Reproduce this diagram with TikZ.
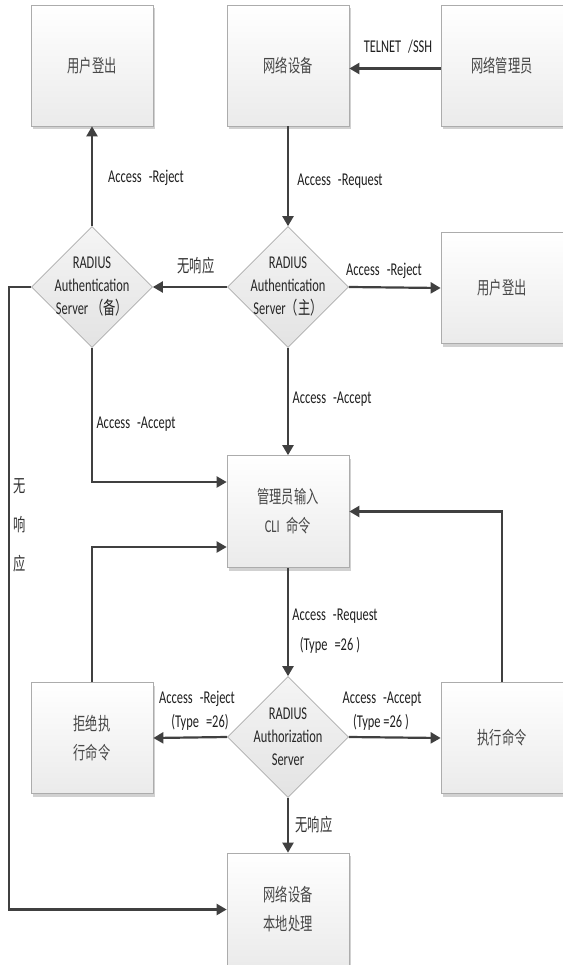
\documentclass[tikz,border=0pt]{standalone}
\usepackage{fontspec}
\setmainfont{Carlito}[FakeStretch=0.69]
\newfontfamily\cjk{Noto Sans CJK SC}[FakeStretch=0.68]
\usetikzlibrary{arrows.meta,shapes.geometric,shadows}
\newcommand\mygap{\hspace{7pt}}
\begin{document}
\begin{tikzpicture}[x=1pt,y=-1pt,
  box/.style={rectangle, draw=gray!65, line width=0.7pt, top color=white, bottom color=gray!16,
    minimum width=122pt, minimum height=112pt, inner sep=0pt,
    drop shadow={shadow xshift=2pt, shadow yshift=-3pt, fill=black!18, opacity=1},
    font=\cjk\fontsize{18}{29}\selectfont, text=black!72, align=center},
  tallbox/.style={box, minimum height=121pt},
  dia/.style={diamond, aspect=1, draw=gray!65, line width=0.7pt, top color=gray!8, bottom color=gray!22,
    minimum width=121pt, minimum height=121pt, inner sep=0pt},
  dtext/.style={font=\fontsize{18}{23}\selectfont, align=center, text=black!85, inner sep=0pt},
  conn/.style={draw=black!75, line width=2.2pt, -{Triangle[length=10pt,width=11pt]}},
  plain/.style={draw=black!75, line width=2.2pt},
  lbl/.style={font=\fontsize{18}{23}\selectfont, text=black!88, inner sep=0pt, align=center},
  clbl/.style={font=\cjk\fontsize{18}{23}\selectfont, text=black!80, inner sep=0pt},
]
\useasboundingbox (0,0) rectangle (562,965);
\fill[white] (0,0) rectangle (562,965);

% boxes
\node[tallbox] (out1) at (92,65.5) {用户登出};
\node[tallbox] (dev) at (288,65.5) {网络设备};
\node[tallbox] (mgr) at (502,65.5) {网络管理员};
\node[box, minimum height=111pt] (out2) at (502,288) {用户登出};
\node[box] (cli) at (288,511.5) {管理员输入\\{\fontspec{Carlito}[FakeStretch=0.69]CLI}\mygap 命令};
\node[box, minimum height=111pt] (reject) at (92,738) {拒绝执\\行命令};
\node[box, minimum height=111pt] (exec) at (502,738) {执行命令};
\node[box, minimum height=113pt] (local) at (288,909.5) {网络设备\\本地处理};

% diamonds
\node[dia] (d1) at (288,287) {};
\node[dtext] (t1) at (d1.center) {RADIUS\\Authentication\\Server{\cjk（主）}};
\node[dia] (d2) at (92,287) {};
\node[dtext] (t2) at (d2.center) {RADIUS\\Authentication\\Server\,{\cjk（备）}};
\node[dia] (d3) at (288,737) {};
\node[dtext] (t3) at (d3.center) {RADIUS\\Authorization\\Server};

% connectors
\draw[conn] ([yshift=-3pt]mgr.west) -- ([yshift=-3pt]dev.east);
\draw[conn] (dev.south) -- (d1.north);
\draw[conn] (d1.west) -- (d2.east);
\draw[conn] (d1.east) -- (out2.west);
\draw[conn] (d2.north) -- (out1.south);
\draw[conn] (d1.south) -- (cli.north);
\draw[conn] (d2.south) |- ([yshift=29.5pt]cli.west);
\draw[conn] (reject.north) |- ([yshift=-35.5pt]cli.west);
\draw[conn] (exec.north) |- (cli.east);
\draw[conn] (cli.south) -- (d3.north);
\draw[conn] (d3.west) -- (reject.east);
\draw[conn] (d3.east) -- (exec.west);
\draw[conn] (d3.south) -- (local.north);
\coordinate (lx) at (9,287);
\draw[conn] (d2.west) -- (lx) |- (local.west);

% labels
\node[lbl] (l1) at (398,47) {TELNET\mygap/SSH};
\node[lbl] (l2) at (146,178) {Access\mygap-Reject};
\node[lbl] (l3) at (340,181) {Access\mygap-Request};
\node[clbl] (l4) at (196,266) {无响应};
\node[lbl] (l5) at (384,271) {Access\mygap-Reject};
\node[lbl] (l6) at (332,399) {Access\mygap-Accept};
\node[lbl] (l7) at (136,424) {Access\mygap-Accept};
\node[lbl] (l8) at (335,616) {Access\mygap-Request};
\node[lbl] (l9) at (330,645) {(Type\mygap=26\,)};
\node[lbl] (l10) at (197,699) {Access\mygap-Reject};
\node[lbl] (l11) at (200,722) {(Type\mygap=26)};
\node[lbl] (l12) at (382,699) {Access\mygap-Accept};
\node[lbl] (l13) at (381,722) {(Type =26\,)};
\node[clbl] (l14) at (314,825) {无响应};
\node[clbl] (v1) at (20,486) {无};
\node[clbl] (v2) at (20,525) {响};
\node[clbl] (v3) at (20,564) {应};
\end{tikzpicture}
\end{document}
